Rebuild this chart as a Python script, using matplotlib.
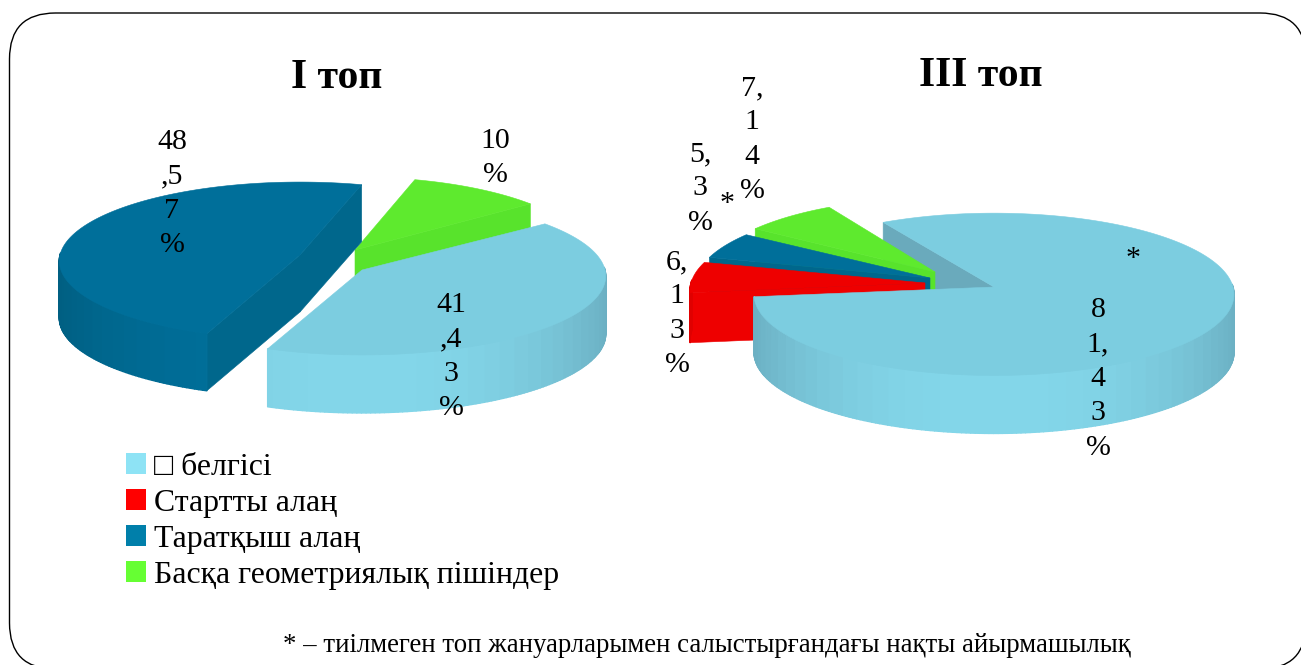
import numpy as np
import matplotlib
matplotlib.use("Agg")
import matplotlib.pyplot as plt
from matplotlib.patches import FancyBboxPatch, Patch, Polygon
from matplotlib.collections import PolyCollection
from matplotlib.colors import to_rgb

# Series
categories = ["\u25a1 белгісі", "Стартты алаң", "Таратқыш алаң", "Басқа геометриялық пішіндер"]
group_i = [41.43, 0.0, 48.57, 10.0]
group_iii = [81.43, 6.13, 5.33, 7.14]
titles = ["І топ", "ІІІ топ"]
labels_i = ["41\n,4\n3\n%", "", "48\n,5\n7\n%", "10\n%"]
labels_iii = ["8\n1,\n4\n3\n%", "6,\n1\n3\n%", "5,\n3\n%", "7,\n1\n4\n%"]
footnote = "* – тиілмеген топ жануарларымен салыстырғандағы нақты айырмашылық"

# Styling per category: top face, cut face, wall shade at the edges, wall shade in the middle
top_colors = ["#7CCDE0", "#EE0000", "#006F9A", "#5EEA2E"]
face_colors = ["#6AAABC", "#EE0000", "#00678C", "#58E32C"]
wall_dark = ["#6BAFC2", "#E00000", "#005F82", "#58E32C"]
wall_light = ["#83D6E9", "#EE0000", "#006F9A", "#5EEA2E"]
legend_colors = ["#8EE3F5", "#FF0000", "#007FAA", "#66FF33"]

plt.rcParams["font.family"] = ["Liberation Serif", "DejaVu Sans"]

fig = plt.figure(figsize=(13.01, 6.65), dpi=100)
ax = fig.add_axes([0, 0, 1, 1])
ax.set_xlim(0, 1301)
ax.set_ylim(665, 0)
ax.axis("off")

frame = FancyBboxPatch((9.5, 13), 1296.5, 656,
                       boxstyle="round,pad=0,rounding_size=46",
                       fc="white", ec="black", lw=1.0, zorder=0, clip_on=True)
ax.add_patch(frame)


def project(theta, apex, rx, ry, k):
    """Map disc angles (degrees) onto the tilted pie plane with a mild perspective."""
    t = np.radians(theta)
    s = 1.0 / (1.0 + k * np.sin(t))
    return apex[0] + rx * np.cos(t) * s, apex[1] - ry * np.sin(t) * s


def draw_pie(values, start, apexes, order, radii, depths, ry, k):
    angle = start
    spans = []
    for v in values:
        spans.append((angle, angle - v * 3.6))
        angle -= v * 3.6
    for z, i in enumerate(order):
        a0, a1 = spans[i]
        if a0 == a1:
            continue
        apex, r, depth = apexes[i], radii[i], depths[i]
        zbase = 10 + 3 * z
        th = np.linspace(a0, a1, max(int(abs(a0 - a1)), 4) + 1)
        x, y = project(th, apex, r, ry, k)

        # cut faces that turn towards the viewer
        for a, visible in ((a0, np.cos(np.radians(a0)) < 0), (a1, np.cos(np.radians(a1)) > 0)):
            if visible:
                ex, ey = project(np.array([a]), apex, r, ry, k)
                quad = [(apex[0], apex[1]), (ex[0], ey[0]), (ex[0], ey[0] + depth), (apex[0], apex[1] + depth)]
                zface = 1 if i == order[-1] and len(order) == 4 else zbase
                ax.add_patch(Polygon(quad, closed=True, fc=face_colors[i], ec=face_colors[i], lw=0.4, zorder=zface))

        # outer wall split into narrow shaded bands
        strips, shades = [], []
        c0, c1 = np.array(to_rgb(wall_dark[i])), np.array(to_rgb(wall_light[i]))
        for j in range(len(th) - 1):
            mid = 0.5 * (th[j] + th[j + 1])
            if np.sin(np.radians(mid)) < 0.03:
                strips.append([(x[j], y[j]), (x[j + 1], y[j + 1]),
                               (x[j + 1], y[j + 1] + depth), (x[j], y[j] + depth)])
                band = np.round(mid / 4.0) * 4.0
                m = abs(np.cos(np.radians(band)))
                shades.append(c1 + (c0 - c1) * m ** 2.5)
        if strips:
            ax.add_collection(PolyCollection(strips, facecolors=shades, edgecolors=shades,
                                             linewidths=1.0, zorder=zbase + 1))

        # top face
        outline = [(apex[0], apex[1])] + list(zip(x, y))
        ax.add_patch(Polygon(outline, closed=True, fc=top_colors[i], ec=top_colors[i], lw=0.4, zorder=zbase + 2))


draw_pie(group_i, 38, [(362, 270), None, (300, 255), (355, 250)], [3, 2, 0],
         radii=[243, 0, 240, 233], depths=[58, 0, 57, 58], ry=78.5, k=0.076)
draw_pie(group_iii, 120, [(994, 287), (925, 283), (930, 278), (935, 272)], [3, 2, 1, 0],
         radii=[239, 234, 234, 229], depths=[58, 50, 50, 50], ry=80.5, k=0.09)

# titles
title_pos = [(337, 78), (981, 76)]
for txt, (tx, ty) in zip(titles, title_pos):
    ax.text(tx, ty, txt, fontsize=30, fontweight="bold", ha="center", va="center", zorder=40)

# data labels
label_style = dict(fontsize=21.5, ha="center", va="top", linespacing=1.42, zorder=40, color="black")
pos_i = [(451, 292), None, (172, 129), (495, 128)]
pos_iii = [(1098, 297), (677, 249), (700, 141), (752, 75)]
for text, pos in zip(labels_i + labels_iii, pos_i + pos_iii):
    if pos is not None:
        ax.text(pos[0], pos[1], text, **label_style)

for ax_x, ax_y in [(727, 204), (1133, 259)]:
    ax.text(ax_x, ax_y, "*", fontsize=21.5, ha="center", va="center", zorder=40)

# legend
handles = [Patch(fc=c, ec="none", label=lab) for c, lab in zip(legend_colors, categories)]
ax.legend(handles=handles, loc="upper left", bbox_to_anchor=(126 / 1301, 1 - 453 / 665), frameon=False,
          fontsize=22.9, handlelength=0.63, handleheight=0.63, handletextpad=0.26, labelspacing=0.22,
          borderpad=0, borderaxespad=0)

ax.text(707, 645, footnote, fontsize=19.3, ha="center", va="center", zorder=40)

fig.savefig("out.png", dpi=100)
